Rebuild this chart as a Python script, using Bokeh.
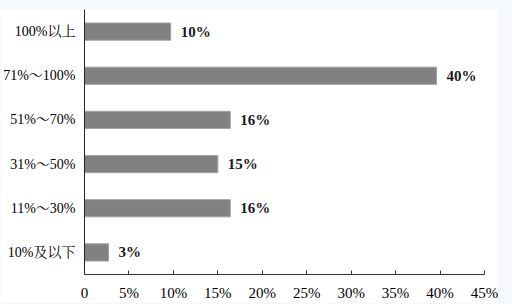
from bokeh.plotting import figure
from bokeh.models import ColumnDataSource, Range1d, FixedTicker, FactorRange
from bokeh.layouts import column
from bokeh.embed import file_html
from bokeh.resources import INLINE
from bokeh.core.properties import value

categories = ["10%及以下", "11%～30%", "31%～50%", "51%～70%", "71%～100%", "100%以上"]
shares = [2.7, 16.4, 15.0, 16.4, 39.6, 9.7]
share_labels = ["3%", "16%", "15%", "16%", "40%", "10%"]
x_ticks = [0, 5, 10, 15, 20, 25, 30, 35, 40, 45]
x_tick_labels = ["0", "5%", "10%", "15%", "20%", "25%", "30%", "35%", "40%", "45%"]

FONT = "Liberation Serif, 'Noto Serif CJK SC', 'Noto Sans CJK SC', serif"

src = ColumnDataSource(dict(cat=categories, val=shares, lab=share_labels))

p = figure(width=498, height=294, y_range=FactorRange(factors=categories, range_padding=0),
           x_range=Range1d(0, 45), output_backend="svg", toolbar_location=None,
           min_border_left=84, min_border_right=14, min_border_top=0, min_border_bottom=29)
p.margin = (9, 14, 1, 0)
p.background_fill_color = "white"
p.border_fill_color = "white"
p.outline_line_color = None
p.xgrid.visible = False
p.ygrid.visible = False

p.hbar(y="cat", right="val", left=0, height=0.39, source=src,
       fill_color="#818181", line_color="#a3a3a3", line_width=1)
p.text(x="val", y="cat", text="lab", source=src, x_offset=10,
       text_baseline="middle", text_align="left", text_font=value(FONT),
       text_font_size="15px", text_font_style="bold", text_color="#1a1a1a")

xa = p.xaxis[0]
xa.ticker = FixedTicker(ticks=x_ticks)
xa.major_label_overrides = {t: l for t, l in zip(x_ticks, x_tick_labels)}
xa.major_tick_in = 4
xa.major_tick_out = 0
xa.minor_tick_line_color = None
xa.axis_line_color = "#333333"
xa.major_tick_line_color = "#333333"
xa.major_label_text_font = FONT
xa.major_label_text_font_size = "15px"
xa.major_label_text_color = "#000000"
xa.major_label_standoff = 10

ya = p.yaxis[0]
ya.major_tick_line_color = None
ya.minor_tick_line_color = None
ya.axis_line_color = "#222222"
ya.major_label_text_font = FONT
ya.major_label_text_font_size = "14px"
ya.major_label_text_color = "#000000"
ya.major_label_standoff = 3

page = column(p, width=512, height=304, styles={"background-color": "#f5f9fe"})
open("out.html", "w").write(file_html(page, INLINE))
